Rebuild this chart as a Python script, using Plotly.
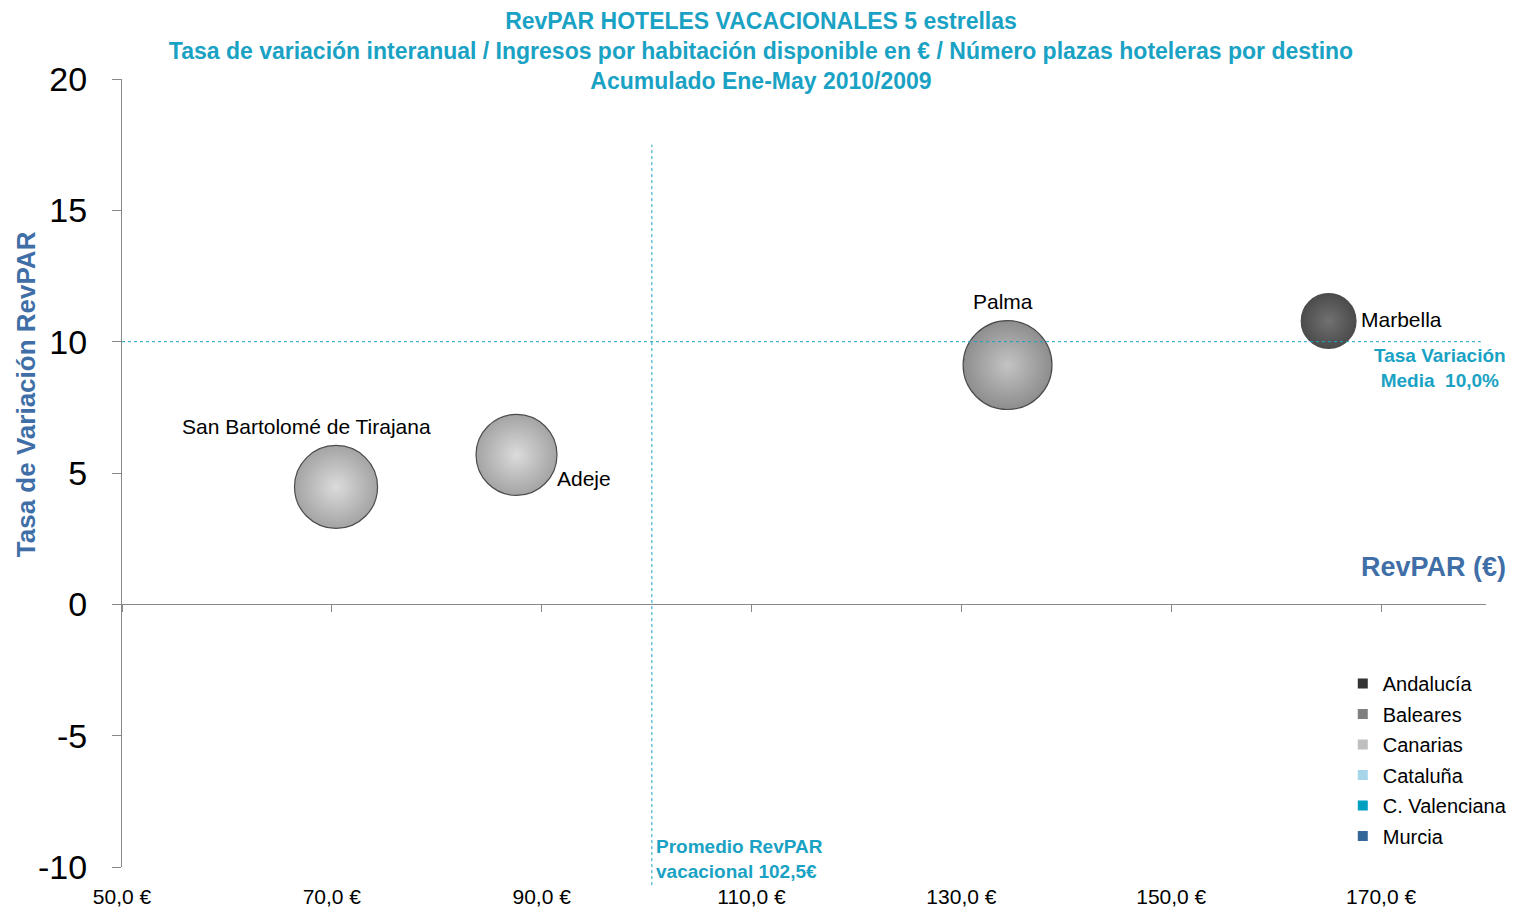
import plotly.graph_objects as go

# destinos (burbujas)
destinos = ["San Bartolomé de Tirajana", "Adeje", "Palma", "Marbella"]
region_destino = ["Canarias", "Canarias", "Baleares", "Andalucía"]
revpar = [70.4, 87.6, 134.4, 165.0]
tasa_var = [4.47, 5.69, 9.11, 10.79]
plazas = [6900, 6550, 7900, 3000]

# leyenda de regiones
regiones = ["Andalucía", "Baleares", "Canarias", "Cataluña", "C. Valenciana", "Murcia"]
color_region = ["#333333", "#808080", "#bfbfbf", "#a6d4e8", "#00a0c0", "#336699"]

# referencias
promedio_revpar = 100.5
tasa_media = 10.0

x_ticks = [50, 70, 90, 110, 130, 150, 170]
x_labels = ["50,0 €", "70,0 €", "90,0 €", "110,0 €", "130,0 €", "150,0 €", "170,0 €"]
y_ticks = [-10, -5, 0, 5, 10, 15, 20]
y_labels = ["-10", "-5", "0", "5", "10", "15", "20"]

TEAL = "#1aa2c4"
BLUE = "#3f6fa6"
FONT = "Arial, Liberation Sans, sans-serif"

# bubble fill: outer colour / centre highlight per region
esfera = {
    "Andalucía": ("#000000", "#363636"),
    "Baleares": ("#5e5e5e", "#ababab"),
    "Canarias": ("#7e7e7e", "#cdcdcd"),
}
# label offsets in px (dx, dy) from bubble centre
offs = [(-30, 60), (67, -24), (-5, 64), (73, 1)]

fig = go.Figure()

for i, name in enumerate(destinos):
    outer, inner = esfera[region_destino[i]]
    fig.add_trace(go.Scatter(
        x=[revpar[i]], y=[tasa_var[i]], mode="markers",
        marker=dict(size=[plazas[i]], sizemode="area", sizeref=2,
                    color=outer, gradient=dict(type="radial", color=inner),
                    line=dict(color="black", width=1.2)),
        showlegend=False, cliponaxis=False, hoverinfo="skip",
    ))
    fig.add_annotation(text=name, x=revpar[i], y=tasa_var[i], xref="x", yref="y",
                       xshift=offs[i][0], yshift=offs[i][1], showarrow=False,
                       font=dict(size=21, color="black", family=FONT))

for reg, col in zip(regiones, color_region):
    fig.add_trace(go.Scatter(
        x=[None], y=[None], mode="markers", name=reg, legendgroup=reg,
        marker=dict(symbol="square", size=10, color=col),
        xaxis="x2",
    ))

# dotted reference lines
fig.add_shape(type="line", xref="x", yref="paper", x0=promedio_revpar, x1=promedio_revpar,
              y0=-0.023, y1=(17.5 + 10) / 30, line=dict(color=TEAL, width=1, dash="dot"))
fig.add_shape(type="line", xref="x", yref="y", x0=50, x1=179.5, y0=tasa_media, y1=tasa_media,
              line=dict(color=TEAL, width=1, dash="dot"))

fig.add_annotation(text="Promedio RevPAR<br>vacacional 102,5€", xref="x", yref="y",
                   x=promedio_revpar, y=-10, xanchor="left", yanchor="middle",
                   xshift=2, yshift=8, showarrow=False, align="left",
                   font=dict(size=19, color=TEAL, family=FONT, weight="bold"))
fig.add_annotation(text="Tasa Variación<br>Media  10,0%", xref="paper", yref="y",
                   x=1, y=tasa_media, xanchor="right", yanchor="top",
                   xshift=22, yshift=-1, showarrow=False, align="center",
                   font=dict(size=19, color=TEAL, family=FONT, weight="bold"))
fig.add_annotation(text="RevPAR (€)", xref="paper", yref="y", x=1, y=0,
                   xanchor="right", yanchor="bottom", xshift=22, yshift=20,
                   showarrow=False, font=dict(size=27, color=BLUE, family=FONT, weight="bold"))
fig.add_annotation(text="Tasa de Variación RevPAR", xref="paper", yref="paper",
                   x=0, y=0.60, xanchor="center", yanchor="middle",
                   xshift=-96, textangle=-90, showarrow=False,
                   font=dict(size=26, color=BLUE, family=FONT, weight="bold"))

# page body adds an 8px margin, so the figure is 8px smaller than the window
fig.update_layout(
    width=1506, height=903,
    margin=dict(l=114, r=28, t=71, b=44, autoexpand=False),
    paper_bgcolor="white", plot_bgcolor="white",
    font=dict(family=FONT, color="black"),
    title=dict(
        text="RevPAR HOTELES VACACIONALES 5 estrellas<br>"
             "Tasa de variación interanual / Ingresos por habitación disponible en € / Número plazas hoteleras por destino<br>"
             "Acumulado Ene-May 2010/2009",
        x=0.5, xref="container", xanchor="center", y=1 - 21 / 903, yanchor="top",
        font=dict(size=23, color=TEAL, family=FONT, weight="bold"),
    ),
    xaxis=dict(range=[50, 180], tickvals=x_ticks, ticktext=x_labels, showline=False,
               showgrid=False, zeroline=False, ticks="", ticklabelstandoff=15,
               tickfont=dict(size=21), automargin=False),
    xaxis2=dict(range=[50, 180], matches="x", overlaying="x", anchor="free", position=1 / 3,
                tickvals=x_ticks, showticklabels=False, ticks="outside", ticklen=7,
                tickcolor="#888888", showline=True, linecolor="#888888", linewidth=1,
                showgrid=False, zeroline=False, automargin=False),
    yaxis=dict(range=[-10, 20], tickvals=y_ticks, ticktext=y_labels, showline=True,
               linecolor="#888888", linewidth=1, ticks="outside", ticklen=9,
               tickcolor="#888888", showgrid=False, zeroline=False, ticklabelstandoff=18,
               tickfont=dict(size=34), automargin=False),
    legend=dict(x=0.895, xanchor="left", y=0.2576, yanchor="top",
                font=dict(size=20), tracegroupgap=1.5, bgcolor="rgba(0,0,0,0)"),
    showlegend=True,
)

fig.write_html("out.html")
